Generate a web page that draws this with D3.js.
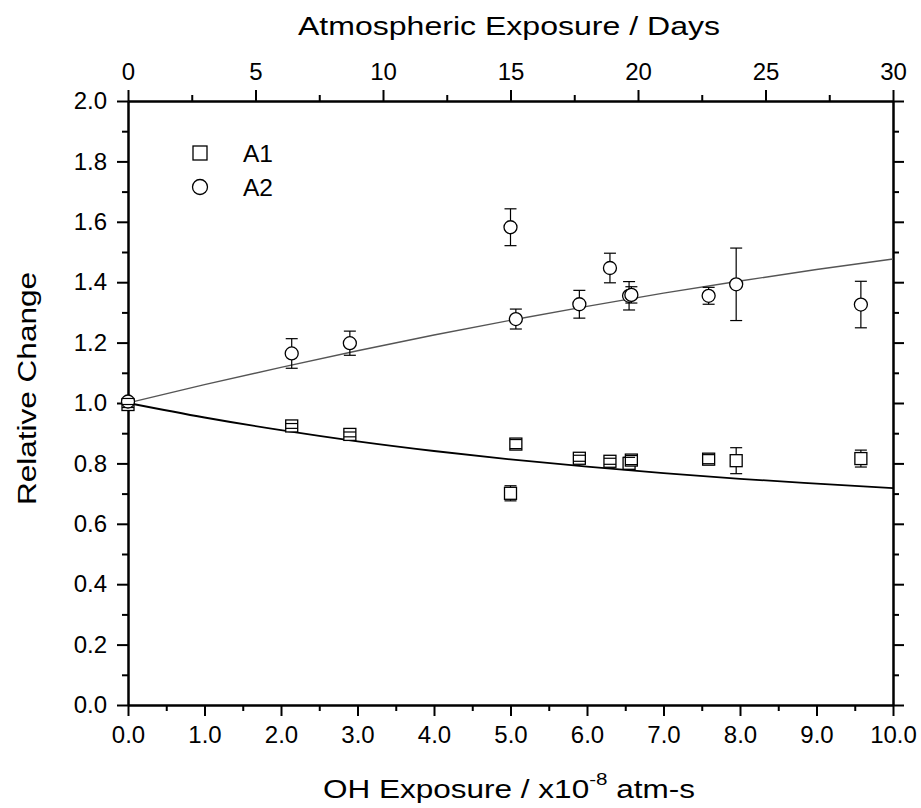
<!DOCTYPE html>
<html>
<head>
<meta charset="utf-8">
<script src="https://cdn.jsdelivr.net/npm/d3@7"></script>
<style>
  html, body { margin: 0; padding: 0; background: #fff; }
  svg { display: block; font-family: "Liberation Sans", Arial, sans-serif; }
</style>
</head>
<body>
<svg id="chart" width="921" height="808"></svg>
<script>
// OH exposure (x10^-8 atm-s), relative change and its uncertainty for each sample
const a1X   = [0, 2.14, 2.90, 5.00, 5.07, 5.90, 6.30, 6.55, 6.58, 7.59, 7.95, 9.58];
const a1Y   = [0.995, 0.924, 0.896, 0.701, 0.864, 0.817, 0.807, 0.800, 0.811, 0.814, 0.809, 0.816];
const a1Err = [0.010, 0.008, 0.008, 0.025, 0.015, 0.010, 0.010, 0.020, 0.015, 0.015, 0.043, 0.028];

const a2X   = [0, 2.14, 2.90, 5.00, 5.07, 5.90, 6.30, 6.55, 6.58, 7.59, 7.95, 9.58];
const a2Y   = [1.005, 1.164, 1.198, 1.582, 1.278, 1.327, 1.447, 1.355, 1.358, 1.355, 1.393, 1.326];
const a2Err = [0.010, 0.049, 0.040, 0.061, 0.033, 0.046, 0.049, 0.047, 0.027, 0.028, 0.120, 0.077];

// Fitted trend curves, sampled along the exposure axis
const fitX  = [0, 1, 2, 3, 4, 5, 6, 7, 8, 9, 10];
const fitA1 = [1.000, 0.952, 0.910, 0.873, 0.841, 0.813, 0.789, 0.768, 0.749, 0.733, 0.718];
const fitA2 = [1.000, 1.061, 1.118, 1.173, 1.225, 1.274, 1.320, 1.364, 1.404, 1.442, 1.477];

// Axis ticks
const xMajor = [0, 1, 2, 3, 4, 5, 6, 7, 8, 9, 10];
const xMinor = [0.5, 1.5, 2.5, 3.5, 4.5, 5.5, 6.5, 7.5, 8.5, 9.5];
const yMajor = [0, 0.2, 0.4, 0.6, 0.8, 1.0, 1.2, 1.4, 1.6, 1.8, 2.0];
const yMinor = [0.1, 0.3, 0.5, 0.7, 0.9, 1.1, 1.3, 1.5, 1.7, 1.9];
const dayMajor = [0, 5, 10, 15, 20, 25, 30];
const dayMinor = [2.5, 7.5, 12.5, 17.5, 22.5, 27.5];

const seriesNames = ["A1", "A2"];

const svg = d3.select("#chart");
const L = 128, R = 893, T = 101, B = 705;

const x = d3.scaleLinear().domain([0, 10]).range([L, R]);
const xDays = d3.scaleLinear().domain([0, 30]).range([L, R]);
const y = d3.scaleLinear().domain([0, 2]).range([B, T]);

const fs = 24;
const axisW = 2;

function styleAxis(g) {
  g.selectAll("path.domain").attr("stroke", "#000").attr("stroke-width", axisW);
  g.selectAll(".tick line").attr("stroke", "#000").attr("stroke-width", axisW);
  g.selectAll(".tick text").attr("fill", "#000").style("font-size", fs + "px")
    .style("font-family", "'Liberation Sans', Arial, sans-serif");
}

// Bottom axis
svg.append("g").attr("transform", `translate(0,${B})`)
  .call(d3.axisBottom(x).tickValues(xMajor).tickFormat(d3.format(".1f")).tickSize(11).tickSizeOuter(0).tickPadding(10))
  .call(styleAxis);
svg.append("g").attr("transform", `translate(0,${B})`)
  .call(d3.axisBottom(x).tickValues(xMinor).tickFormat("").tickSize(6).tickSizeOuter(0))
  .call(styleAxis);

// Top axis (days)
svg.append("g").attr("transform", `translate(0,${T})`)
  .call(d3.axisTop(xDays).tickValues(dayMajor).tickFormat(d3.format("d")).tickSize(11).tickSizeOuter(0).tickPadding(10))
  .call(styleAxis);
svg.append("g").attr("transform", `translate(0,${T})`)
  .call(d3.axisTop(xDays).tickValues(dayMinor).tickFormat("").tickSize(6).tickSizeOuter(0))
  .call(styleAxis);

// Left axis
svg.append("g").attr("transform", `translate(${L},0)`)
  .call(d3.axisLeft(y).tickValues(yMajor).tickFormat(d3.format(".1f")).tickSize(11).tickSizeOuter(0).tickPadding(10))
  .call(styleAxis);
svg.append("g").attr("transform", `translate(${L},0)`)
  .call(d3.axisLeft(y).tickValues(yMinor).tickFormat("").tickSize(6).tickSizeOuter(0))
  .call(styleAxis);

// Right axis
svg.append("g").attr("transform", `translate(${R},0)`)
  .call(d3.axisRight(y).tickValues(yMajor).tickFormat("").tickSize(11).tickSizeOuter(0))
  .call(styleAxis);
svg.append("g").attr("transform", `translate(${R},0)`)
  .call(d3.axisRight(y).tickValues(yMinor).tickFormat("").tickSize(6).tickSizeOuter(0))
  .call(styleAxis);

// Fit curves
const lineGen = d3.line().x(d => x(d[0])).y(d => y(d[1])).curve(d3.curveMonotoneX);
svg.append("path").datum(fitX.map((v, i) => [v, fitA2[i]]))
  .attr("d", lineGen).attr("fill", "none").attr("stroke", "#555").attr("stroke-width", 1.4);
svg.append("path").datum(fitX.map((v, i) => [v, fitA1[i]]))
  .attr("d", lineGen).attr("fill", "none").attr("stroke", "#000").attr("stroke-width", 1.8);

const sq = 12, cr = 6.5, cap = 6;

function drawSeries(xs, ys, es, kind) {
  const pts = xs.map((v, i) => ({ x: v, y: ys[i], e: es[i] }));
  const g = svg.append("g");
  const half = kind === "square" ? sq / 2 : cr;
  if (kind === "square") {
    g.selectAll("rect").data(pts).join("rect")
      .attr("x", d => x(d.x) - sq / 2).attr("y", d => y(d.y) - sq / 2)
      .attr("width", sq).attr("height", sq)
      .attr("fill", "#fff").attr("stroke", "#000").attr("stroke-width", 1.3);
  } else {
    g.selectAll("circle").data(pts).join("circle")
      .attr("cx", d => x(d.x)).attr("cy", d => y(d.y)).attr("r", cr)
      .attr("fill", "#fff").attr("stroke", "#000").attr("stroke-width", 1.3);
  }
  const eb = svg.append("g").attr("stroke", "#000").attr("stroke-width", 1.2);
  pts.forEach(d => {
    const cx = x(d.x), cy = y(d.y);
    const yt = y(d.y + d.e), yb = y(d.y - d.e);
    if (cy - yt > half) {
      eb.append("line").attr("x1", cx).attr("x2", cx).attr("y1", yt).attr("y2", cy - half);
      eb.append("line").attr("x1", cx).attr("x2", cx).attr("y1", cy + half).attr("y2", yb);
    }
    eb.append("line").attr("x1", cx - cap).attr("x2", cx + cap).attr("y1", yt).attr("y2", yt);
    eb.append("line").attr("x1", cx - cap).attr("x2", cx + cap).attr("y1", yb).attr("y2", yb);
  });
}
drawSeries(a1X, a1Y, a1Err, "square");
drawSeries(a2X, a2Y, a2Err, "circle");

// Legend
const lg = svg.append("g");
lg.append("rect").attr("x", 200 - 7).attr("y", 153 - 7).attr("width", 14).attr("height", 14)
  .attr("fill", "#fff").attr("stroke", "#000").attr("stroke-width", 1.3);
lg.append("circle").attr("cx", 200).attr("cy", 187).attr("r", 7.5)
  .attr("fill", "#fff").attr("stroke", "#000").attr("stroke-width", 1.3);
lg.selectAll("text").data(seriesNames).join("text")
  .attr("x", 243).attr("y", (d, i) => 162 + i * 34)
  .attr("textLength", 30).attr("lengthAdjust", "spacingAndGlyphs")
  .style("font-size", "23px").text(d => d);

// Axis titles
svg.append("text").attr("x", 298).attr("y", 35)
  .attr("textLength", 422).attr("lengthAdjust", "spacingAndGlyphs")
  .style("font-size", "25px").text("Atmospheric Exposure / Days");

const bt = svg.append("text").attr("x", 323).attr("y", 798)
  .attr("textLength", 372).attr("lengthAdjust", "spacingAndGlyphs")
  .style("font-size", "26px");
bt.append("tspan").text("OH Exposure / x10");
bt.append("tspan").attr("dy", -13).style("font-size", "17px").text("-8");
bt.append("tspan").attr("dy", 13).text(" atm-s");

svg.append("text").attr("transform", `translate(36,505) rotate(-90)`)
  .attr("textLength", 233).attr("lengthAdjust", "spacingAndGlyphs")
  .style("font-size", "26px").text("Relative Change");
</script>
</body>
</html>
